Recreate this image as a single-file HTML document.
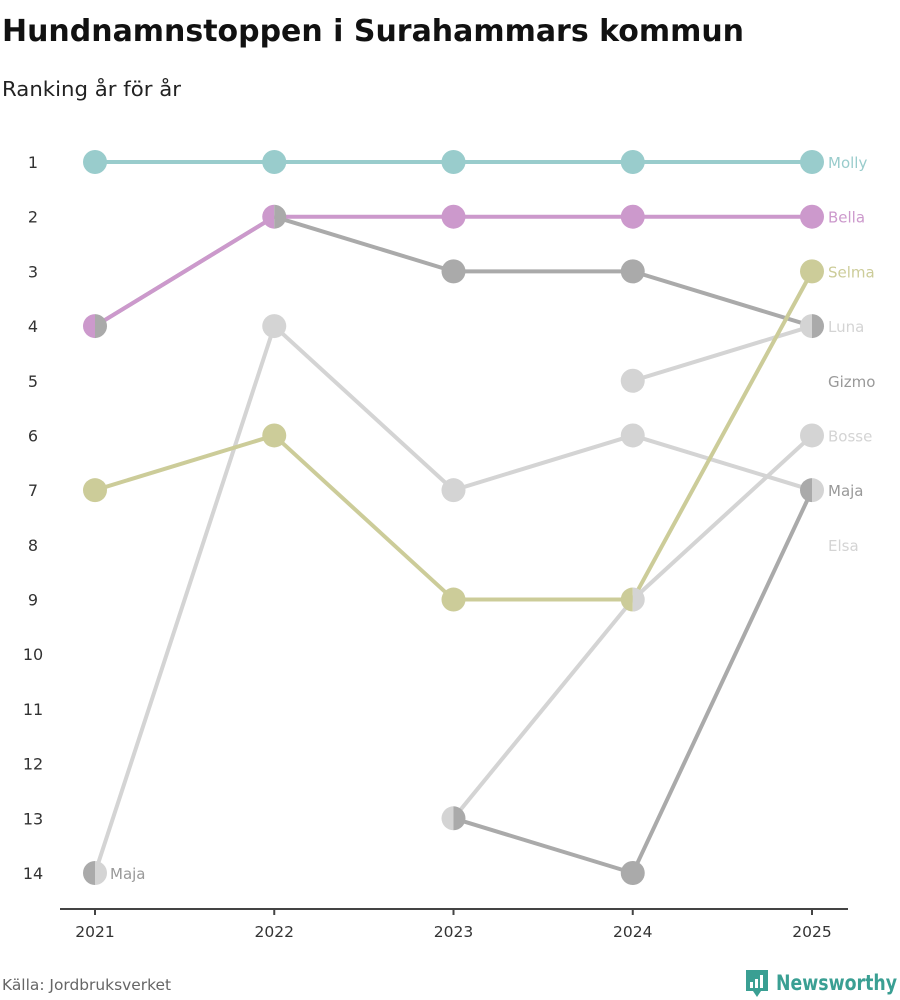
<!DOCTYPE html>
<html><head><meta charset="utf-8"><style>
body{margin:0;background:#fff;font-family:"DejaVu Sans","Liberation Sans",sans-serif;}
svg{display:block}
</style></head><body>
<svg id="chart" width="900" height="1000" font-family="DejaVu Sans, Liberation Sans, sans-serif">
<text x="2" y="41" font-size="30" font-weight="bold" fill="#111" textLength="742" lengthAdjust="spacingAndGlyphs">Hundnamnstoppen i Surahammars kommun</text>
<text x="2" y="96" font-size="20" fill="#222" textLength="179" lengthAdjust="spacingAndGlyphs">Ranking år för år</text>
<g id="yaxis"></g>
<line x1="60" y1="909" x2="848" y2="909" stroke="#444" stroke-width="2"/>
<g id="xaxis"></g>
<g id="lines"></g>
<g id="dots"></g>
<g id="labels"></g>
<text x="2" y="990" font-size="15" fill="#666" textLength="169" lengthAdjust="spacingAndGlyphs">Källa: Jordbruksverket</text>
<g>
<path d="M746 970 h22 v21 h-7 l-4 6 l-4 -6 h-7 z" fill="#3a9f93"/>
<rect x="750" y="982" width="3" height="6" fill="#fff"/><rect x="755" y="979" width="3" height="9" fill="#fff"/><rect x="760" y="975" width="3" height="13" fill="#fff"/>
<text x="776" y="990" font-size="21" font-weight="bold" fill="#3a9f93" textLength="121" lengthAdjust="spacingAndGlyphs">Newsworthy</text>
</g>
</svg>
<script>
const years = [2021, 2022, 2023, 2024, 2025];
const rankTicks = [1,2,3,4,5,6,7,8,9,10,11,12,13,14];
const names = ["Molly","Bella","Selma","Luna","Bosse","Maja","Elsa","Gizmo"];
const molly = [1,1,1,1,1];
const bella = [4,2,2,2,2];
const selma = [7,6,9,9,3];
const luna = [null,null,null,5,4];
const bosse = [null,null,13,9,6];
const maja = [14,null,13,14,7];
const elsa = [14,4,7,6,7];
const gizmo = [4,2,3,3,4];
const labelRanks = [1,2,3,4,6,7,8,5];
const seriesValues = [molly,bella,selma,luna,bosse,maja,elsa,gizmo];
const colors = ["#99cccc","#cc99cc","#cccc99","#d4d4d4","#d4d4d4","#aaaaaa","#d4d4d4","#aaaaaa"];
const labelColors = ["#99cccc","#cc99cc","#cccc99","#d4d4d4","#d4d4d4","#999999","#d4d4d4","#999999"];
const drawOrder = [3,4,6,5,7,2,1,0];
const NS="http://www.w3.org/2000/svg";
const xS = i => 95 + i*179.25;
const yS = r => 162 + (r-1)*(873-162)/13;
function mk(tag, attrs, parent){const e=document.createElementNS(NS,tag);for(const k in attrs)e.setAttribute(k,attrs[k]);parent.appendChild(e);return e;}
const yax=document.getElementById('yaxis');
rankTicks.forEach(r=>{const t=mk('text',{x:33,y:yS(r)+6,'font-size':16,fill:'#333','text-anchor':'middle'},yax);t.textContent=r;

});
const xax=document.getElementById('xaxis');
years.forEach((y,i)=>{mk('line',{x1:xS(i),y1:909,x2:xS(i),y2:915,stroke:'#444','stroke-width':2},xax);
const t=mk('text',{x:xS(i),y:937,'font-size':15.5,fill:'#333','text-anchor':'middle'},xax);t.textContent=y;

});
const lg=document.getElementById('lines');
drawOrder.forEach(s=>{const v=seriesValues[s];
for(let i=0;i<v.length-1;i++){if(v[i]==null||v[i+1]==null)continue;
const l=mk('line',{x1:xS(i),y1:yS(v[i]),x2:xS(i+1),y2:yS(v[i+1]),stroke:colors[s],'stroke-width':4},lg);

}});
const dg=document.getElementById('dots');
const R=12;
years.forEach((y,i)=>{const groups={};
names.forEach((n,s)=>{const r=seriesValues[s][i];if(r==null)return;(groups[r]=groups[r]||[]).push(s);});
for(const r in groups){const g=groups[r];const cx=xS(i),cy=yS(+r);
if(g.length===1){const c=mk('circle',{cx:cx,cy:cy,r:R,fill:colors[g[0]]},dg);

}
else{const a=g[0],b=g[1];
const p1=mk('path',{d:`M${cx} ${cy-R} A${R} ${R} 0 0 0 ${cx} ${cy+R} Z`,fill:colors[a]},dg);


const p2=mk('path',{d:`M${cx} ${cy-R} A${R} ${R} 0 0 1 ${cx} ${cy+R} Z`,fill:colors[b]},dg);

}}});
const lb=document.getElementById('labels');
names.forEach((n,s)=>{const t=mk('text',{x:828,y:yS(labelRanks[s])+6,'font-size':15,fill:labelColors[s]},lb);t.textContent=n;

});
const mt=mk('text',{x:110,y:yS(14)+6,'font-size':15,fill:'#999'},lb);mt.textContent='Maja';


</script>
</body></html>
